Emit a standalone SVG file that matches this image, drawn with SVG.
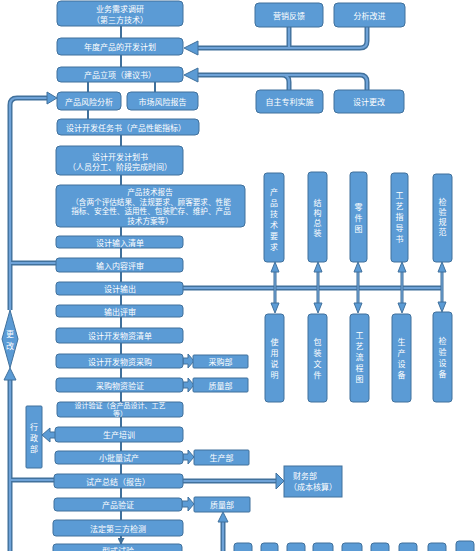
<svg xmlns="http://www.w3.org/2000/svg" width="475" height="551" viewBox="0 0 475 551">
<style>
.b{fill:#5b9bd5;stroke:#41719c;stroke-width:1}
.t{fill:#fff;font-family:"Noto Sans CJK SC","Noto Sans",sans-serif;font-size:8px;text-anchor:middle;dominant-baseline:central}
.s7{font-size:7.6px}
.s6{font-size:7px}
.co{fill:none;stroke:#41719c;stroke-width:5}
.ci{fill:none;stroke:#6fa3d8;stroke-width:2.2}
.so{fill:none;stroke:#41719c;stroke-width:3}
.si{fill:none;stroke:#7aaee0;stroke-width:1}
.h{fill:#5b9bd5;stroke:#41719c;stroke-width:1}
.m{fill:none;stroke:#41719c;stroke-width:2}
</style>
<defs>
<marker id="ah" markerUnits="userSpaceOnUse" markerWidth="7" markerHeight="7" refX="6" refY="3.5" orient="auto"><path d="M0,0 L7,3.5 L0,7 z" fill="#41719c"/></marker>
</defs>
<rect width="475" height="551" fill="#fff"/>
<g id="connectors">
<path class="m" marker-end="url(#ah)" d="M121,26 V38 M121,55 V67 M88,82 V92 M155,82 V92 M88,110 V119 M121,135 V146 M121,175 V185 M121,227 V236 M121,248 V258 M121,272 V282 M121,295 V305 M121,317 V328 M121,343 V354 M121,368 V378 M121,392 V402 M121,417 V427 M121,442 V451 M121,464 V474 M121,488 V498 M121,511 V520 M121,536 V544"/>
<path class="co" d="M289,27 V48 H198 M367,27 V41 Q367,48 360,48 H289"/>
<path class="ci" d="M289,27 V48 H198 M367,27 V41 Q367,48 360,48 H289"/>
<polygon class="h" points="184,48 198,41 198,55"/>
<path class="co" d="M198,75 H282 Q289,75 289,82 V90 M282,75 H360 Q367,75 367,82 V90"/>
<path class="ci" d="M198,75 H282 Q289,75 289,82 V90 M282,75 H360 Q367,75 367,82 V90"/>
<polygon class="h" points="184,75 198,68 198,82"/>
<path class="co" d="M10,310 V105 Q10,98 17,98 H47 M10,263 H57 M10,551 V380 M10,480 H54"/>
<path class="ci" d="M10,310 V105 Q10,98 17,98 H47 M10,263 H57 M10,551 V380 M10,480 H54"/>
<polygon class="h" points="57,98 47,92 47,104"/>
<polygon class="h" points="10,368 4,380 16,380"/>
<polygon class="h" points="183,358 188,358 188,354 194,361 188,368 188,364 183,364"/>
<polygon class="h" points="183,382 188,382 188,378 194,385 188,392 188,388 183,388"/>
<polygon class="h" points="183,454 188,454 188,450 194,457 188,464 188,460 183,460"/>
<polygon class="h" points="182,501 188,501 188,497 194,504 188,511 188,507 182,507"/>
<polygon class="h" points="57,432 50,432 50,428 42,435 50,442 50,438 57,438"/>
<path class="co" d="M183,481 H276"/>
<path class="ci" d="M183,481 H276"/>
<polygon class="h" points="284,481 276,473 276,489"/>
<path class="co" d="M223,551 V522"/>
<path class="ci" d="M223,551 V522"/>
<polygon class="h" points="223,512 218,522 228,522"/>
<path class="co" d="M183,288 H442"/>
<path class="ci" d="M183,288 H442"/>
<path class="so" d="M275,271 V304 M318,271 V304 M358,271 V304 M402,271 V304 M442,271 V304"/>
<path class="si" d="M275,271 V304 M318,271 V304 M358,271 V304 M402,271 V304 M442,271 V304"/>
<polygon class="h" points="275,262 271,272 279,272"/>
<polygon class="h" points="318,262 314,272 322,272"/>
<polygon class="h" points="358,262 354,272 362,272"/>
<polygon class="h" points="402,262 398,272 406,272"/>
<polygon class="h" points="442,262 438,272 446,272"/>
<polygon class="h" points="275,313 271,303 279,303"/>
<polygon class="h" points="318,313 314,303 322,303"/>
<polygon class="h" points="358,313 354,303 362,303"/>
<polygon class="h" points="402,313 398,303 406,303"/>
<polygon class="h" points="442,312 438,302 446,302"/>
</g>
<g id="n1"><rect class="b" x="57" y="1" width="126" height="25" rx="4"/><text class="t" x="120" y="8">业务需求调研</text><text class="t" x="120" y="19">（第三方技术）</text></g>
<g id="n2"><rect class="b" x="57" y="38" width="126" height="17" rx="4"/><text class="t" x="120" y="46.5">年度产品的开发计划</text></g>
<g id="n3"><rect class="b" x="57" y="67" width="126" height="15" rx="4"/><text class="t" x="120" y="74.5">产品立项（建议书）</text></g>
<g id="n4a"><rect class="b" x="57" y="92" width="64" height="18" rx="4"/><text class="t" x="89" y="101">产品风险分析</text></g>
<g id="n4b"><rect class="b" x="127" y="92" width="71" height="18" rx="4"/><text class="t" x="162.5" y="101">市场风险报告</text></g>
<g id="n5"><rect class="b" x="57" y="119" width="142" height="16" rx="4"/><text class="t" x="126" y="127">设计开发任务书（产品性能指标）</text></g>
<g id="n6"><rect class="b" x="56" y="146" width="127" height="29" rx="4"/><text class="t" x="120" y="156">设计开发计划书</text><text class="t" x="120" y="166">（人员分工、阶段完成时间）</text></g>
<g id="n7"><rect class="b" x="56" y="185" width="189" height="42" rx="4"/><text class="t s7" x="150" y="191.5">产品技术报告</text><text class="t s7" x="151" y="201">（含两个评估结果、法规要求、顾客要求、性能</text><text class="t s7" x="151" y="210.5">指标、安全性、适用性、包装贮存、维护、产品</text><text class="t s7" x="150" y="220">技术方案等）</text></g>
<g id="n8"><rect class="b" x="56" y="236" width="127" height="12" rx="3"/><text class="t" x="120" y="242">设计输入清单</text></g>
<g id="n9"><rect class="b" x="56" y="258" width="127" height="14" rx="3"/><text class="t" x="120" y="265">输入内容评审</text></g>
<g id="n10"><rect class="b" x="56" y="282" width="127" height="13" rx="3"/><text class="t" x="120" y="288.5">设计输出</text></g>
<g id="n11"><rect class="b" x="56" y="305" width="127" height="12" rx="3"/><text class="t" x="120" y="311">输出评审</text></g>
<g id="n12"><rect class="b" x="56" y="328" width="127" height="15" rx="3"/><text class="t" x="120" y="335.5">设计开发物资清单</text></g>
<g id="n13"><rect class="b" x="56" y="354" width="127" height="14" rx="3"/><text class="t" x="120" y="361">设计开发物资采购</text></g>
<g id="n14"><rect class="b" x="56" y="378" width="127" height="14" rx="3"/><text class="t" x="120" y="385">采购物资验证</text></g>
<g id="n15"><rect class="b" x="57" y="402" width="126" height="15" rx="3"/><text class="t s6" x="120" y="404.5">设计验证（含产品设计、工艺</text><text class="t s6" x="120" y="413">等）</text></g>
<g id="n16"><rect class="b" x="55" y="427" width="128" height="15" rx="3"/><text class="t" x="119" y="434.5">生产培训</text></g>
<g id="n17"><rect class="b" x="55" y="451" width="128" height="13" rx="3"/><text class="t" x="119" y="457.5">小批量试产</text></g>
<g id="n18"><rect class="b" x="54" y="474" width="129" height="14" rx="3"/><text class="t" x="118" y="481">试产总结（报告）</text></g>
<g id="n19"><rect class="b" x="54" y="498" width="128" height="13" rx="3"/><text class="t" x="118" y="504.5">产品验证</text></g>
<g id="n20"><rect class="b" x="53" y="520" width="130" height="16" rx="3"/><text class="t" x="118" y="528">法定第三方检测</text></g>
<g id="n21"><rect class="b" x="53" y="544" width="129" height="20" rx="3"/><text class="t" x="118" y="550">型式试验</text></g>
<g id="fb1"><rect class="b" x="255" y="3" width="68" height="24" rx="4"/><text class="t" x="289" y="15">营销反馈</text></g>
<g id="fb2"><rect class="b" x="334" y="3" width="71" height="24" rx="4"/><text class="t" x="369.5" y="15">分析改进</text></g>
<g id="pt1"><rect class="b" x="256" y="90" width="67" height="23" rx="4"/><text class="t" x="289.5" y="101.5">自主专利实施</text></g>
<g id="pt2"><rect class="b" x="334" y="90" width="70" height="23" rx="4"/><text class="t" x="369" y="101.5">设计更改</text></g>
<g id="change"><polygon class="b" points="10,310 18,339 10,368 2,339"/><text class="t" x="10" y="333">更</text><text class="t" x="10" y="345">改</text></g>
<g id="admin"><rect class="b" x="26" y="406" width="16" height="62" rx="1"/><text class="t" x="34" y="426">行</text><text class="t" x="34" y="437">政</text><text class="t" x="34" y="448">部</text></g>
<g id="d1"><rect class="b" x="193" y="355" width="55" height="13" rx="1"/><text class="t" x="220.5" y="361.5">采购部</text></g>
<g id="d2"><rect class="b" x="193" y="378" width="55" height="14" rx="1"/><text class="t" x="220.5" y="385">质量部</text></g>
<g id="d3"><rect class="b" x="194" y="450" width="55" height="15" rx="1"/><text class="t" x="221.5" y="457.5">生产部</text></g>
<g id="d4"><rect class="b" x="194" y="497" width="56" height="15" rx="1"/><text class="t" x="222" y="504.5">质量部</text></g>
<g id="fin"><rect class="b" x="284" y="466" width="58" height="31"/><text class="t" x="305" y="475">财务部</text><text class="t" x="313" y="486">（成本核算）</text></g>
<g id="vA"><rect class="b" x="264" y="173" width="20" height="89" rx="3"/><text class="t"><tspan x="274" y="191">产</tspan><tspan x="274" y="202">品</tspan><tspan x="274" y="213">技</tspan><tspan x="274" y="224">术</tspan><tspan x="274" y="235">要</tspan><tspan x="274" y="246">求</tspan></text></g>
<g id="vB"><rect class="b" x="308" y="172" width="19" height="90" rx="3"/><text class="t"><tspan x="317.5" y="202">结</tspan><tspan x="317.5" y="212">构</tspan><tspan x="317.5" y="222">总</tspan><tspan x="317.5" y="232">装</tspan></text></g>
<g id="vC"><rect class="b" x="350" y="172" width="17" height="90" rx="3"/><text class="t"><tspan x="358.5" y="206">零</tspan><tspan x="358.5" y="217">件</tspan><tspan x="358.5" y="228">图</tspan></text></g>
<g id="vD"><rect class="b" x="391" y="173" width="17" height="89" rx="3"/><text class="t"><tspan x="399.5" y="194">工</tspan><tspan x="399.5" y="205">艺</tspan><tspan x="399.5" y="216">指</tspan><tspan x="399.5" y="227">导</tspan><tspan x="399.5" y="238">书</tspan></text></g>
<g id="vE"><rect class="b" x="433" y="174" width="19" height="88" rx="3"/><text class="t"><tspan x="442.5" y="201">检</tspan><tspan x="442.5" y="211">验</tspan><tspan x="442.5" y="221">规</tspan><tspan x="442.5" y="231">范</tspan></text></g>
<g id="vF"><rect class="b" x="265" y="314" width="19" height="88" rx="3"/><text class="t"><tspan x="274.5" y="341">使</tspan><tspan x="274.5" y="352">用</tspan><tspan x="274.5" y="363">说</tspan><tspan x="274.5" y="374">明</tspan></text></g>
<g id="vG"><rect class="b" x="308" y="314" width="19" height="88" rx="3"/><text class="t"><tspan x="317.5" y="341">包</tspan><tspan x="317.5" y="352">装</tspan><tspan x="317.5" y="363">文</tspan><tspan x="317.5" y="374">件</tspan></text></g>
<g id="vH"><rect class="b" x="350" y="314" width="19" height="88" rx="3"/><text class="t"><tspan x="359.5" y="334">工</tspan><tspan x="359.5" y="345">艺</tspan><tspan x="359.5" y="356">流</tspan><tspan x="359.5" y="367">程</tspan><tspan x="359.5" y="378">图</tspan></text></g>
<g id="vI"><rect class="b" x="392" y="314" width="19" height="88" rx="3"/><text class="t"><tspan x="401.5" y="341">生</tspan><tspan x="401.5" y="352">产</tspan><tspan x="401.5" y="363">设</tspan><tspan x="401.5" y="374">备</tspan></text></g>
<g id="vJ"><rect class="b" x="433" y="312" width="19" height="90" rx="3"/><text class="t"><tspan x="442.5" y="340">检</tspan><tspan x="442.5" y="351">验</tspan><tspan x="442.5" y="362">设</tspan><tspan x="442.5" y="373">备</tspan></text></g>
<g id="bottom-row">
<rect class="b" x="234" y="543" width="18" height="20" rx="3"/>
<rect class="b" x="261" y="543" width="17" height="20" rx="3"/>
<rect class="b" x="287" y="543" width="18" height="20" rx="3"/>
<rect class="b" x="313" y="543" width="20" height="20" rx="3"/>
<rect class="b" x="342" y="543" width="20" height="20" rx="3"/>
<rect class="b" x="371" y="543" width="18" height="20" rx="3"/>
<rect class="b" x="399" y="543" width="18" height="20" rx="3"/>
<rect class="b" x="428" y="543" width="18" height="20" rx="3"/>
<rect class="b" x="456" y="541" width="18" height="22" rx="3"/>
</g>
</svg>
